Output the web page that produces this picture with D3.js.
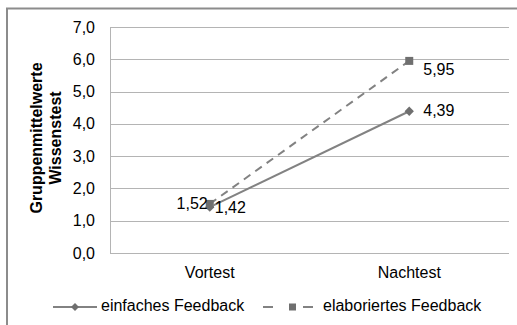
<!DOCTYPE html>
<html>
<head>
<meta charset="utf-8">
<script src="https://cdn.jsdelivr.net/npm/d3@7"></script>
<style>
  body { margin: 0; background: #fff; overflow: hidden; }
  svg text { font-family: "Liberation Sans", Arial, sans-serif; fill: #000; }
</style>
</head>
<body>
<div id="chart"></div>
<script>
// Daten
const categories = ["Vortest", "Nachtest"];
const seriesNames = ["einfaches Feedback", "elaboriertes Feedback"];
const einfach = [1.42, 4.39];
const elaboriert = [1.52, 5.95];
const yTicks = [0, 1, 2, 3, 4, 5, 6, 7];

const fmt = d => d3.format(".1f")(d).replace(".", ",");
const fmt2 = d => d3.format(".2f")(d).replace(".", ",");

const width = 517, height = 325;
const margin = { top: 27, right: 8, bottom: 72, left: 110 };
const innerW = width - margin.left - margin.right;
const innerH = height - margin.top - margin.bottom;
const fontStack = "'Liberation Sans', Arial, sans-serif";

const svg = d3.select("#chart").append("svg")
  .attr("width", width).attr("height", height).style("display", "block");

// outer frame (right and bottom lie outside the picture)
svg.append("rect").attr("x", 7).attr("y", 8.5)
  .attr("width", 530).attr("height", 340)
  .attr("fill", "none").attr("stroke", "#8c8c8c").attr("stroke-width", 2);

const g = svg.append("g").attr("transform", `translate(${margin.left},${margin.top})`);

const x = d3.scaleBand().domain(categories).range([0, innerW]);
const y = d3.scaleLinear().domain([0, 7]).range([innerH, 0]);

// gridlines
g.append("g").selectAll("line").data(yTicks).join("line")
  .attr("x1", 0).attr("x2", innerW)
  .attr("y1", d => Math.round(y(d)) + 0.5).attr("y2", d => Math.round(y(d)) + 0.5)
  .attr("stroke", "#b4b4b4").attr("stroke-width", 1);

// y axis
const yAxis = d3.axisLeft(y).tickValues(yTicks).tickFormat(fmt).tickSize(0).tickPadding(15);
const yAxisDraw = g.append("g").call(yAxis);
yAxisDraw.select(".domain").attr("stroke", "#b4b4b4");
yAxisDraw.selectAll("text").attr("font-size", "16px").attr("fill", "#000")
  .style("font-family", fontStack);

// x axis labels
const xAxis = d3.axisBottom(x).tickSize(0).tickPadding(14);
const xAxisDraw = g.append("g").attr("transform", `translate(0,${innerH})`).call(xAxis);
xAxisDraw.select(".domain").remove();
xAxisDraw.selectAll("text").attr("font-size", "16px").attr("fill", "#000")
  .style("font-family", fontStack);

// y title
const yTitle = svg.append("text")
  .attr("transform", `translate(42,138) rotate(-90)`)
  .attr("text-anchor", "middle").attr("font-size", "16px").attr("font-weight", "bold");
yTitle.append("tspan").attr("x", 0).attr("dy", 0).text("Gruppenmittelwerte");
yTitle.append("tspan").attr("x", 0).attr("dy", 19).text("Wissenstest");

const cx = d => x(d) + x.bandwidth() / 2;
const line = d3.line().x((d, i) => cx(categories[i])).y(d => y(d));

const lineColor = "#828282";
const markColor = "#6f6f6f";

// elaboriert (dashed, squares)
g.append("path").datum(elaboriert).attr("d", line)
  .attr("fill", "none").attr("stroke", lineColor).attr("stroke-width", 2)
  .attr("stroke-dasharray", "8,6");
g.selectAll(".sq").data(elaboriert).join("rect").attr("class", "sq")
  .attr("x", (d, i) => cx(categories[i]) - 4).attr("y", d => y(d) - 4)
  .attr("width", 8).attr("height", 8).attr("fill", markColor);

// einfach (solid, diamonds)
g.append("path").datum(einfach).attr("d", line)
  .attr("fill", "none").attr("stroke", lineColor).attr("stroke-width", 2);
g.selectAll(".dm").data(einfach).join("path").attr("class", "dm")
  .attr("d", d3.symbol().type(d3.symbolDiamond2).size(55))
  .attr("transform", (d, i) => `translate(${cx(categories[i])},${y(d)})`)
  .attr("fill", markColor);

// data labels
const lblStyle = s => s.attr("font-size", "16px").attr("dominant-baseline", "middle");
g.append("text").call(lblStyle).attr("text-anchor", "end")
  .attr("x", cx(categories[0]) - 2).attr("y", y(elaboriert[0]) + 1).text(fmt2(elaboriert[0]));
g.append("text").call(lblStyle)
  .attr("x", cx(categories[0]) + 5).attr("y", y(einfach[0]) + 2).text(fmt2(einfach[0]));
g.append("text").call(lblStyle)
  .attr("x", cx(categories[1]) + 14).attr("y", y(elaboriert[1]) + 10).text(fmt2(elaboriert[1]));
g.append("text").call(lblStyle)
  .attr("x", cx(categories[1]) + 14).attr("y", y(einfach[1]) + 1).text(fmt2(einfach[1]));

// legend
const legend = svg.append("g").attr("transform", "translate(0,307)");
const l1 = legend.append("g").attr("transform", "translate(53,0)");
l1.append("line").attr("x1", 0).attr("x2", 44).attr("stroke", lineColor).attr("stroke-width", 2);
l1.append("path").attr("d", d3.symbol().type(d3.symbolDiamond2).size(40))
  .attr("transform", "translate(22,0)").attr("fill", markColor);
l1.append("text").attr("x", 48).attr("font-size", "16px").attr("dominant-baseline", "middle")
  .text(seriesNames[0]);

const l2 = legend.append("g").attr("transform", "translate(263,0)");
l2.append("line").attr("x1", 0).attr("x2", 10).attr("stroke", lineColor).attr("stroke-width", 2);
l2.append("line").attr("x1", 40).attr("x2", 50).attr("stroke", lineColor).attr("stroke-width", 2);
l2.append("rect").attr("x", 26).attr("y", -3.5).attr("width", 7).attr("height", 7).attr("fill", markColor);
l2.append("text").attr("x", 60).attr("font-size", "16px").attr("dominant-baseline", "middle")
  .text(seriesNames[1]);
</script>
</body>
</html>
